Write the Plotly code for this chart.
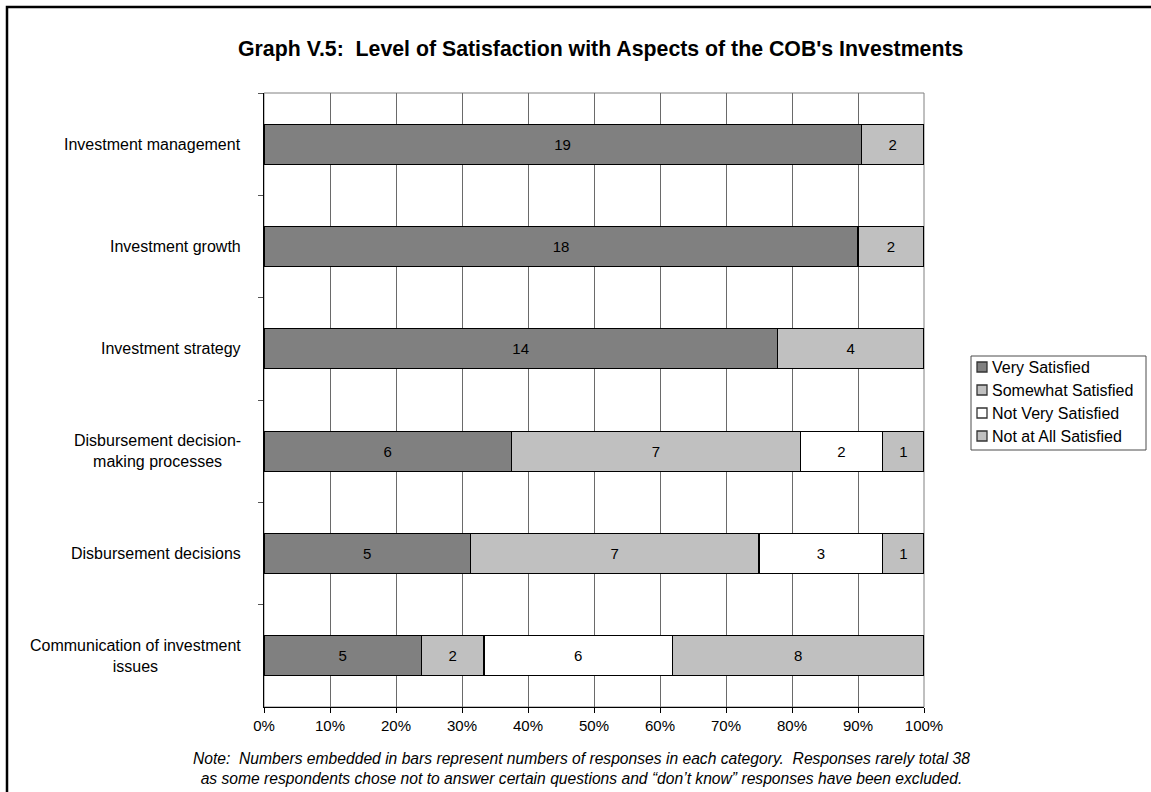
import plotly.graph_objects as go

# Survey items, top to bottom
categories = [
    "Investment management",
    "Investment growth",
    "Investment strategy",
    "Disbursement decision-making processes",
    "Disbursement decisions",
    "Communication of investment issues",
]
category_labels = [
    "Investment management",
    "Investment growth",
    "Investment strategy",
    "Disbursement decision-<br>making processes",
    "Disbursement decisions",
    "Communication of investment<br>issues",
]

# Number of responses in each satisfaction category
very_satisfied = [19, 18, 14, 6, 5, 5]
somewhat_satisfied = [2, 2, 4, 7, 7, 2]
not_very_satisfied = [0, 0, 0, 2, 3, 6]
not_at_all_satisfied = [0, 0, 0, 1, 1, 8]

series_names = ["Very Satisfied", "Somewhat Satisfied", "Not Very Satisfied", "Not at All Satisfied"]
series_counts = [very_satisfied, somewhat_satisfied, not_very_satisfied, not_at_all_satisfied]
series_colors = ["#808080", "#C0C0C0", "#FFFFFF", "#C0C0C0"]

x_tick_values = [0, 10, 20, 30, 40, 50, 60, 70, 80, 90, 100]
x_tick_labels = [f"{v}%" for v in x_tick_values]

title_text = "Graph V.5:\u00a0 Level of Satisfaction with Aspects of the COB's Investments"
note_text = (
    "Note:\u00a0 Numbers embedded in bars represent numbers of responses in each category.\u00a0 "
    "Responses rarely total 38<br>as some respondents chose not to answer certain questions "
    "and \u201cdon\u2019t know\u201d responses have been excluded."
)

FONT = "Liberation Sans, Arial, sans-serif"
W, H = 1151, 792
M_L, M_R, M_T, M_B = 264, 227, 93, 85
PW, PH = W - M_L - M_R, H - M_T - M_B


def px_x(px):
    return (px - M_L) / PW


def px_y(py):
    return (H - M_B - py) / PH


totals = [sum(vals) for vals in zip(*series_counts)]

fig = go.Figure()
for name, counts, color in zip(series_names, series_counts, series_colors):
    share = [100.0 * c / t if c else None for c, t in zip(counts, totals)]
    fig.add_trace(go.Bar(
        y=categories,
        x=share,
        orientation="h",
        name=name,
        text=[str(c) if c else "" for c in counts],
        textposition="inside",
        insidetextanchor="middle",
        textangle=0,
        constraintext="none",
        insidetextfont=dict(family=FONT, size=15, color="black"),
        marker=dict(color=color, line=dict(color="black", width=1.2)),
        hovertemplate="%{y}: %{text}<extra>" + name + "</extra>",
        showlegend=False,
    ))

# Category labels, right-aligned against the axis with centred line breaks
for cat, label in zip(categories, category_labels):
    fig.add_annotation(
        x=px_x(243), xref="paper", xanchor="right",
        y=cat, yref="y", yanchor="middle",
        text=label, align="center", showarrow=False,
        font=dict(family=FONT, size=16, color="black"),
    )

# Title and footnote
fig.add_annotation(
    x=px_x(600), xref="paper", xanchor="center",
    y=px_y(49), yref="paper", yanchor="middle",
    text="<b>" + title_text + "</b>", showarrow=False,
    font=dict(family=FONT, size=21.3, color="black"),
)
fig.add_annotation(
    x=px_x(581), xref="paper", xanchor="center",
    y=px_y(768), yref="paper", yanchor="middle",
    text="<i>" + note_text + "</i>", showarrow=False, align="center",
    font=dict(family=FONT, size=15.65, color="black"),
)

# Legend box: swatch + label per series
LEG_LEFT, LEG_RIGHT, LEG_TOP, LEG_BOTTOM = 971, 1146, 356, 450
ROW0, ROW_STEP = 367, 23
fig.add_shape(type="rect", xref="paper", yref="paper",
              x0=px_x(LEG_LEFT), x1=px_x(LEG_RIGHT), y0=px_y(LEG_BOTTOM), y1=px_y(LEG_TOP),
              line=dict(color="#4d4d4d", width=1), fillcolor="white", layer="above")
for i, (name, color) in enumerate(zip(series_names, series_colors)):
    cy = ROW0 + i * ROW_STEP
    fig.add_shape(type="rect", xref="paper", yref="paper",
                  x0=px_x(977), x1=px_x(987), y0=px_y(cy + 5), y1=px_y(cy - 5),
                  line=dict(color="#333333", width=1.3), fillcolor=color, layer="above")
    fig.add_annotation(
        x=px_x(990), xref="paper", xanchor="left",
        y=px_y(cy), yref="paper", yanchor="middle",
        text=name, showarrow=False,
        font=dict(family=FONT, size=16, color="black"),
    )

# Plot-area frame and outer chart border
fig.add_shape(type="rect", xref="x domain", yref="y domain", x0=0, x1=1, y0=0, y1=1,
              line=dict(color="#808080", width=1), layer="below")
fig.add_shape(type="rect", xref="paper", yref="paper",
              x0=px_x(7), x1=px_x(1170), y0=px_y(7), y1=px_y(810),
              line=dict(color="black", width=2.5), layer="above")

fig.update_layout(
    width=W, height=H,
    margin=dict(l=M_L, r=M_R, t=M_T, b=M_B, autoexpand=False),
    barmode="stack",
    bargap=0.61,
    plot_bgcolor="white",
    paper_bgcolor="white",
    font=dict(family=FONT, size=15, color="black"),
    showlegend=False,
    xaxis=dict(
        range=[0, 100],
        tickvals=x_tick_values,
        ticktext=x_tick_labels,
        ticks="outside", ticklen=5, tickcolor="black", tickwidth=1,
        showgrid=True, gridcolor="#6a6a6a", gridwidth=1,
        showline=True, linecolor="black", linewidth=1.2,
        zeroline=False,
        tickfont=dict(family=FONT, size=15, color="black"),
        fixedrange=True,
    ),
    yaxis=dict(
        autorange="reversed",
        showticklabels=False,
        ticks="outside", tickson="boundaries", ticklen=5, tickcolor="#555555",
        showgrid=False,
        showline=True, linecolor="black", linewidth=1.2,
        fixedrange=True,
    ),
)

fig.write_html("out.html")
